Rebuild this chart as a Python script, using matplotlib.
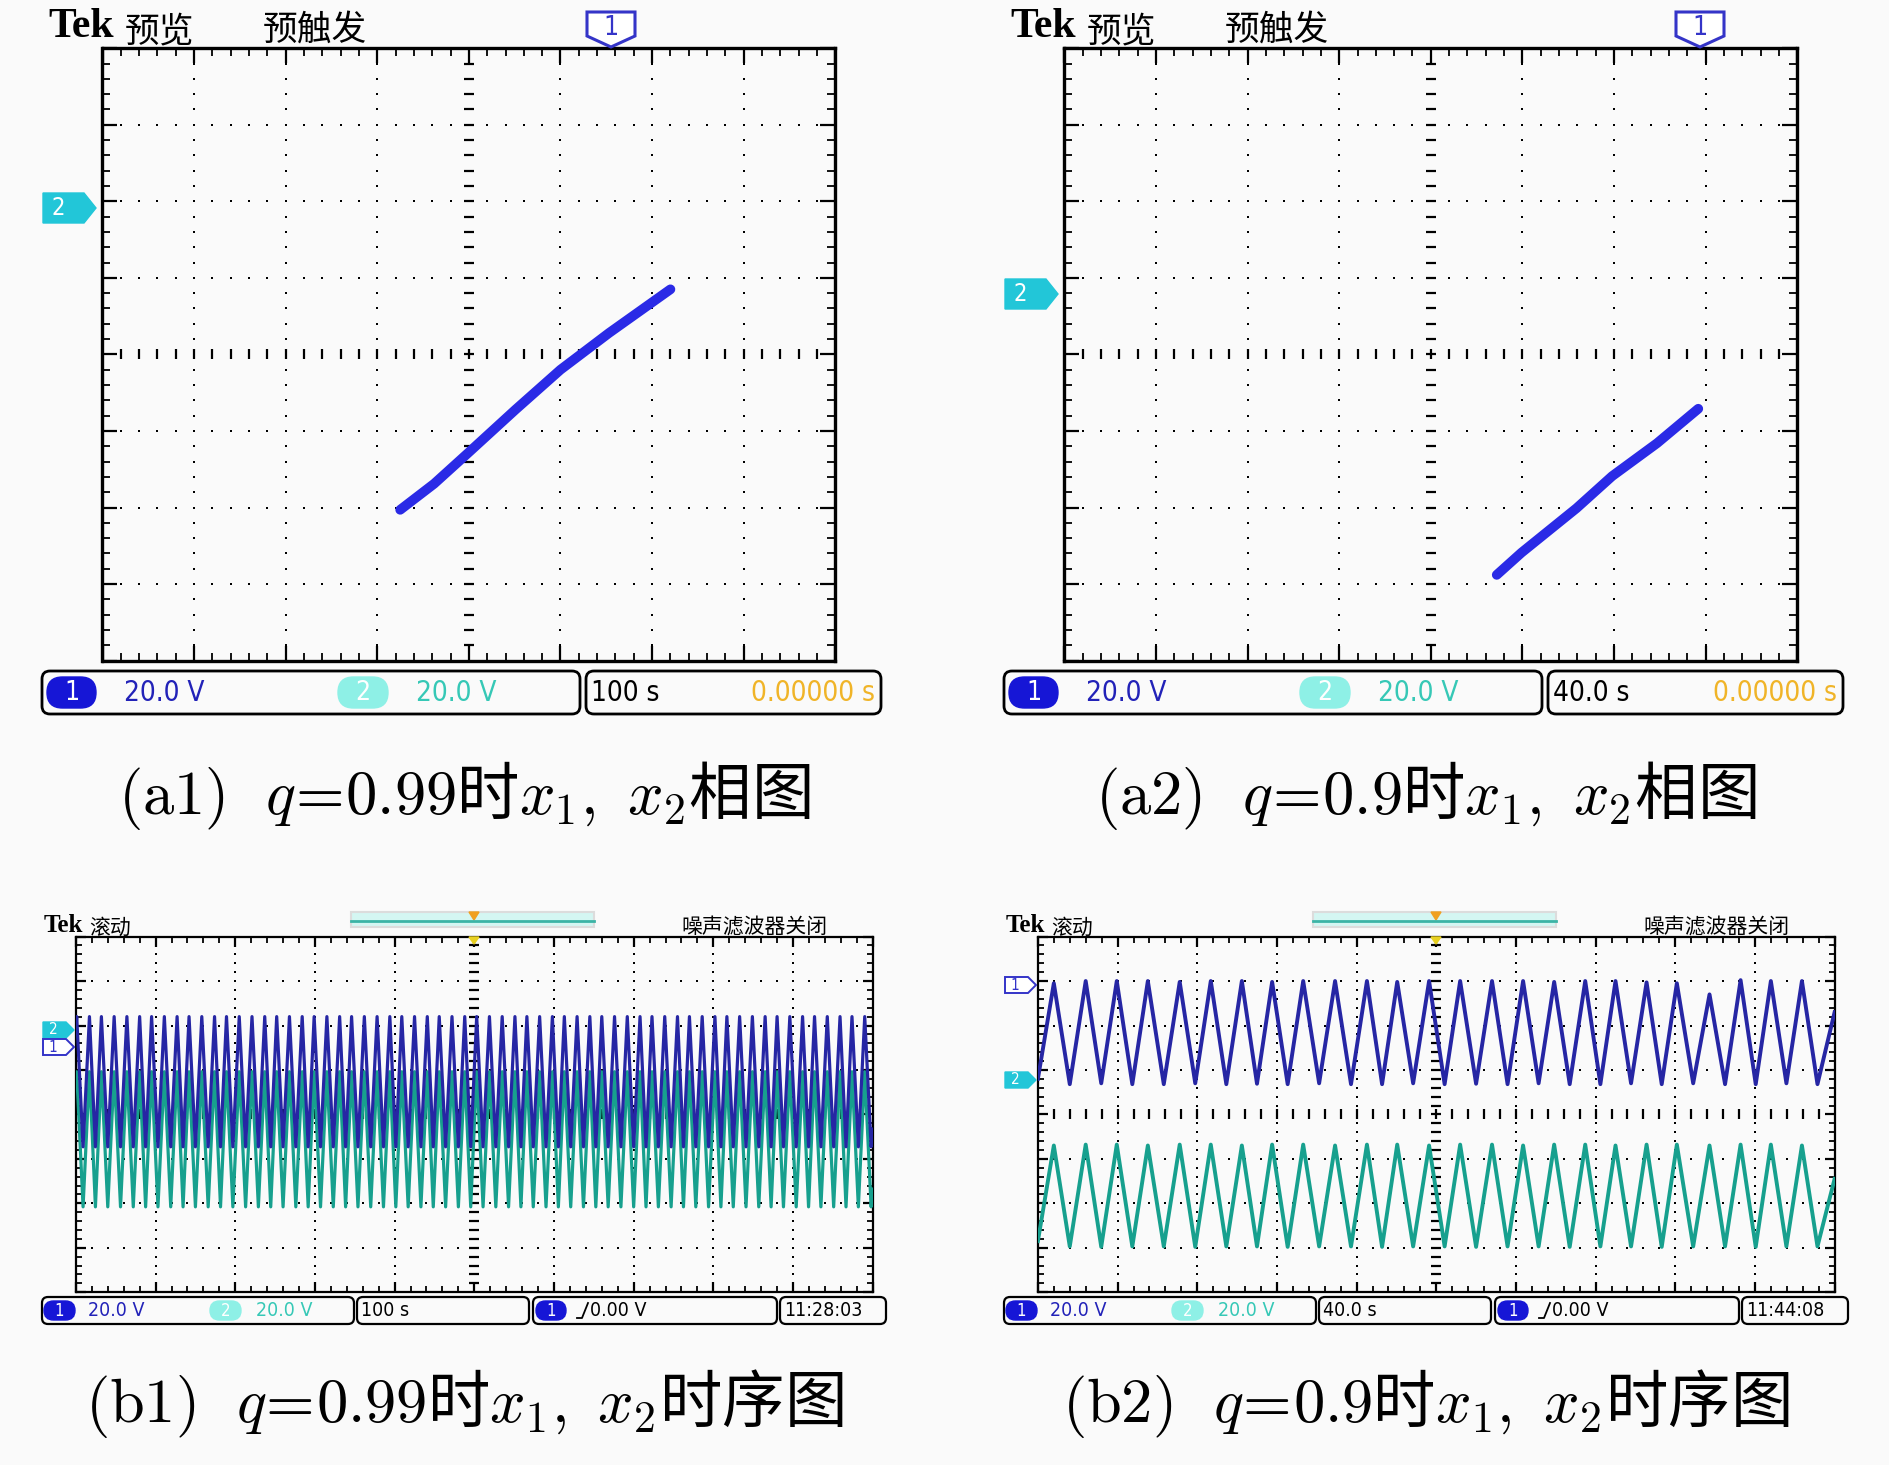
import numpy as np
import matplotlib.pyplot as plt
from matplotlib.patches import Polygon, FancyBboxPatch

W, H = 1890, 1465
plt.rcParams['mathtext.fontset'] = 'cm'
CJK = ['Noto Sans CJK SC', 'DejaVu Sans']
NARROW = ['Liberation Sans Narrow', 'DejaVu Sans']

# ---- data (scope divisions) ----
# phase portraits: x1 (horizontal) vs x2 (vertical), centre = 0
a1_x1 = [-0.75, -0.38, -0.02, 0.51, 1.00, 1.53, 2.20]
a1_x2 = [-2.03, -1.69, -1.30, -0.72, -0.20, 0.28, 0.85]
a2_x1 = [0.72, 0.99, 1.59, 1.98, 2.47, 2.92]
a2_x2 = [-2.88, -2.59, -2.01, -1.59, -1.16, -0.71]

# time series, q=0.9 (40 s/div): peak positions and peak / trough levels
b2_peak_t = [0.20, 0.60, 0.99, 1.38, 1.78, 2.17, 2.56, 2.94, 3.33, 3.73, 4.13, 4.51, 4.91,
             5.30, 5.70, 6.09, 6.48, 6.87, 7.25, 7.64, 8.02, 8.43, 8.82, 9.20, 9.59]
b2_x1_hi = [6.95, 7.00, 7.00, 7.00, 6.98, 7.00, 7.00, 6.98, 7.00, 7.00, 7.00, 6.98, 7.00,
            7.00, 7.00, 7.00, 6.98, 7.00, 7.00, 6.97, 6.95, 6.70, 7.02, 7.00, 7.00]
b2_x1_lo = [4.68, 4.70, 4.68, 4.68, 4.70, 4.68, 4.69, 4.68, 4.70, 4.68, 4.68, 4.70, 4.68,
            4.69, 4.68, 4.70, 4.68, 4.68, 4.70, 4.68, 4.70, 4.68, 4.68, 4.70, 4.68]
b2_x2_hi = [3.30, 3.32, 3.32, 3.30, 3.32, 3.32, 3.30, 3.32, 3.32, 3.30, 3.32, 3.32, 3.30,
            3.32, 3.32, 3.30, 3.32, 3.32, 3.30, 3.32, 3.32, 3.30, 3.32, 3.32, 3.30]
b2_x2_lo = [1.03, 1.02, 1.03, 1.03, 1.02, 1.03, 1.03, 1.02, 1.03, 1.03, 1.02, 1.03, 1.03,
            1.02, 1.03, 1.03, 1.02, 1.03, 1.03, 1.02, 1.03, 1.03, 1.02, 1.03, 1.03]
b2_x1_ends = (4.80, 6.30)
b2_x2_ends = (1.15, 2.55)

# time series, q=0.99 (100 s/div)
b1_peak_t = [0.01, 0.17, 0.32, 0.48, 0.64, 0.80, 0.95, 1.11, 1.27, 1.42, 1.58, 1.74, 1.89,
             2.05, 2.21, 2.37, 2.52, 2.68, 2.84, 2.99, 3.15, 3.31, 3.46, 3.62, 3.78, 3.94,
             4.09, 4.25, 4.41, 4.56, 4.72, 4.88, 5.03, 5.19, 5.35, 5.51, 5.66, 5.82, 5.98,
             6.13, 6.29, 6.45, 6.60, 6.76, 6.92, 7.08, 7.23, 7.39, 7.55, 7.70, 7.86, 8.02,
             8.17, 8.33, 8.49, 8.65, 8.80, 8.96, 9.12, 9.27, 9.43, 9.59, 9.74, 9.90]
b1_x1_level = (6.20, 3.27)
b1_x2_level = (4.96, 1.92)

captions = [r'$\mathrm{(a1)}\ \ q\!=\!0.99$时$x_1,\ x_2$相图',
            r'$\mathrm{(a2)}\ \ q\!=\!0.9$时$x_1,\ x_2$相图',
            r'$\mathrm{(b1)}\ \ q\!=\!0.99$时$x_1,\ x_2$时序图',
            r'$\mathrm{(b2)}\ \ q\!=\!0.9$时$x_1,\ x_2$时序图']
timebase = ['100 s', '40.0 s']
clock = ['11:28:03', '11:44:08']

BLUE = '#2a2ae6'
TR_BLUE = '#2626a4'
TR_CYAN = '#17a08e'
BG = '#fafafa'

fig = plt.figure(figsize=(W / 100, H / 100), dpi=100, facecolor=BG)


def add_scope(x0, y0, x1, y1, ncol, nrow, xa, ya, lw, big):
    ax = fig.add_axes([x0 / W, 1 - y1 / H, (x1 - x0) / W, (y1 - y0) / H])
    ax.set_facecolor(BG)
    ax.set_xlim(xa, xa + ncol)
    ax.set_ylim(ya, ya + nrow)
    ax.set_xticks(np.arange(ncol + 1) + xa)
    ax.set_yticks(np.arange(nrow + 1) + ya)
    ax.set_xticks(np.arange(ncol * 5 + 1) / 5 + xa, minor=True)
    ax.set_yticks(np.arange(nrow * 5 + 1) / 5 + ya, minor=True)
    ax.tick_params(which='both', direction='in', top=True, right=True,
                   labelbottom=False, labelleft=False)
    ax.tick_params(which='major', length=11 if big else 7, width=1.6)
    ax.tick_params(which='minor', length=6 if big else 4, width=1.3)
    for s in ax.spines.values():
        s.set_linewidth(lw)
    fy = np.arange(1, nrow * 5) / 5 + ya
    fx = np.arange(1, ncol * 5) / 5 + xa
    for i in range(1, ncol):
        if 2 * i == ncol:
            ax.plot(np.full(fy.size, i + xa), fy, ls='none', marker='_', ms=7, mew=1.6, color='k')
        else:
            ax.plot(np.full(fy.size, i + xa), fy, ls='none', marker='s', ms=2.0, mew=0, color='k')
    for j in range(1, nrow):
        if 2 * j == nrow:
            ax.plot(fx, np.full(fx.size, j + ya), ls='none', marker='|', ms=7, mew=1.6, color='k')
        else:
            ax.plot(fx, np.full(fx.size, j + ya), ls='none', marker='s', ms=2.0, mew=0, color='k')
    return ax


def zigzag(peak_t, hi, lo, ends):
    t = [0.0]
    v = [ends[0]]
    for k in range(len(peak_t)):
        t.append(peak_t[k])
        v.append(hi[k])
        if k + 1 < len(peak_t):
            t.append((peak_t[k] + peak_t[k + 1]) / 2)
            v.append(lo[k])
    half = (peak_t[-1] - peak_t[-2]) / 2
    if peak_t[-1] + half < 10:
        t.append(peak_t[-1] + half)
        v.append(lo[-1])
    t.append(10.0)
    v.append(ends[1])
    return t, v


# ---- phase portraits ----
ax_a1 = add_scope(102.5, 48.2, 835.3, 660.6, 8, 8, -4, -4, 2.4, True)
ax_a1.plot(a1_x1, a1_x2, color=BLUE, lw=7, solid_capstyle='round', zorder=5)
ax_a2 = add_scope(1064.4, 48.2, 1797.2, 660.6, 8, 8, -4, -4, 2.4, True)
ax_a2.plot(a2_x1, a2_x2, color=BLUE, lw=7, solid_capstyle='round', zorder=5)

# ---- time series ----
ax_b1 = add_scope(75.9, 936.6, 872.7, 1292.2, 10, 8, 0, 0, 1.6, False)
n1 = len(b1_peak_t)
t, v = zigzag(b1_peak_t, [b1_x2_level[0]] * n1, [b1_x2_level[1]] * n1,
              (b1_x2_level[0] - 0.3, b1_x2_level[1] + 0.4))
ax_b1.plot(t, v, color=TR_CYAN, lw=2.3, zorder=4)
t, v = zigzag(b1_peak_t, [b1_x1_level[0]] * n1, [b1_x1_level[1]] * n1,
              (b1_x1_level[0] - 0.3, b1_x1_level[1] + 0.4))
ax_b1.plot(t, v, color=TR_BLUE, lw=2.3, zorder=5)

ax_b2 = add_scope(1037.9, 936.6, 1834.6, 1292.2, 10, 8, 0, 0, 1.6, False)
t, v = zigzag(b2_peak_t, b2_x1_hi, b2_x1_lo, b2_x1_ends)
ax_b2.plot(t, v, color=TR_BLUE, lw=2.8, zorder=5)
t, v = zigzag(b2_peak_t, b2_x2_hi, b2_x2_lo, b2_x2_ends)
ax_b2.plot(t, v, color=TR_CYAN, lw=2.8, zorder=5)

# ---- overlay in pixel coordinates: scope chrome and captions ----
ov = fig.add_axes([0, 0, 1, 1])
ov.set_xlim(0, W)
ov.set_ylim(H, 0)
ov.axis('off')
ov.patch.set_alpha(0)


def rbox(x0, y0, x1, y1, r, fc=BG, ec='k', lw=2.0):
    ov.add_patch(FancyBboxPatch((x0, y0), x1 - x0, y1 - y0,
                                boxstyle=f'round,pad=0,rounding_size={r}', fc=fc, ec=ec, lw=lw))


def stext(x, y, s, size, color='k', ha='left'):
    ov.text(x, y, s, color=color, fontsize=size, ha=ha, va='center', family=NARROW,
            fontstretch='condensed')


def pill(x0, x1, y0, y1, fc, label, size):
    rbox(x0, y0, x1, y1, (y1 - y0) / 2, fc=fc, ec=fc, lw=1)
    stext((x0 + x1) / 2, (y0 + y1) / 2, label, size, color='white', ha='center')


for k, dx in enumerate([0, 962]):
    # header of XY screens
    ov.text(48 + dx, 37, 'Tek', fontsize=30, fontweight='bold', family='Liberation Serif', va='baseline')
    ov.text(125 + dx, 41, '预览', fontsize=25, family=CJK, va='baseline')
    ov.text(263 + dx, 41, '预触发', fontsize=25, family=CJK, va='baseline')
    # trigger marker
    tx = [611, 1700][k]
    ov.add_patch(Polygon([(tx - 24, 12), (tx + 24, 12), (tx + 24, 36), (tx, 47), (tx - 24, 36)],
                         closed=True, fc='white', ec='#3434c8', lw=2.2))
    stext(tx, 28, '1', 19, color='#3434c8', ha='center')
    # channel 2 marker
    cy = [208, 294][k]
    ov.add_patch(Polygon([(43 + dx, cy - 15), (84 + dx, cy - 15), (96 + dx, cy), (84 + dx, cy + 15),
                          (43 + dx, cy + 15)], closed=True, fc='#22c6d8', ec='#22c6d8'))
    stext(58 + dx, cy, '2', 17, color='white', ha='center')
    # status bar
    rbox(42 + dx, 671, 580 + dx, 714, 8)
    rbox(586 + dx, 671, 881 + dx, 714, 8)
    pill(47 + dx, 96 + dx, 677, 708, '#1616d6', '1', 19)
    stext(124 + dx, 693, '20.0 V', 20, color='#2222b8')
    pill(338 + dx, 388 + dx, 677, 708, '#8ef0e6', '2', 19)
    stext(416 + dx, 693, '20.0 V', 20, color='#36c8b6')
    stext(591 + dx, 693, timebase[k], 20)
    stext(875 + dx, 693, '0.00000 s', 20, color='#f0b428', ha='right')

    # header of time screens
    ov.text(44 + dx, 932, 'Tek', fontsize=18, fontweight='bold', family='Liberation Serif', va='baseline')
    ov.text(89 + dx, 934, '滚动', fontsize=15, family=CJK, va='baseline')
    ov.text(681 + dx, 934, '噪声滤波器关闭', fontsize=15, family=CJK, va='baseline')
    ov.add_patch(FancyBboxPatch((351 + dx, 912), 243, 15, boxstyle='square,pad=0',
                                fc='#d4f6f2', ec='#dcdcdc', lw=1.5))
    ov.plot([351 + dx, 594 + dx], [921, 921], color='#3cb4a6', lw=2)
    ov.add_patch(Polygon([(469 + dx, 912), (479 + dx, 912), (474 + dx, 920)], closed=True,
                         fc='#f0a020', ec='#f0a020'))
    ov.add_patch(Polygon([(469 + dx, 937), (479 + dx, 937), (474 + dx, 944)], closed=True,
                         fc='#e8d020', ec='#e8d020'))
    # channel markers of time screens
    c1y, c2y = [(1047, 1030), (985, 1080)][k]
    ov.add_patch(Polygon([(43 + dx, c2y - 8), (66 + dx, c2y - 8), (74 + dx, c2y), (66 + dx, c2y + 8),
                          (43 + dx, c2y + 8)], closed=True, fc='#22c6d8', ec='#22c6d8'))
    stext(53 + dx, c2y, '2', 11, color='white', ha='center')
    ov.add_patch(Polygon([(43 + dx, c1y - 8), (66 + dx, c1y - 8), (74 + dx, c1y), (66 + dx, c1y + 8),
                          (43 + dx, c1y + 8)], closed=True, fc='white', ec='#3434c8', lw=1.4))
    stext(53 + dx, c1y, '1', 11, color='#3434c8', ha='center')
    # status bar of time screens
    rbox(42 + dx, 1297, 354 + dx, 1324, 6, lw=1.6)
    rbox(357 + dx, 1297, 529 + dx, 1324, 6, lw=1.6)
    rbox(533 + dx, 1297, 777 + dx, 1324, 6, lw=1.6)
    rbox(780 + dx, 1297, 886 + dx, 1324, 6, lw=1.6)
    pill(44 + dx, 75 + dx, 1301, 1320, '#1616d6', '1', 12)
    stext(88 + dx, 1311, '20.0 V', 14, color='#2222b8')
    pill(210 + dx, 241 + dx, 1301, 1320, '#8ef0e6', '2', 12)
    stext(256 + dx, 1311, '20.0 V', 14, color='#36c8b6')
    stext(361 + dx, 1311, timebase[k], 14)
    pill(536 + dx, 566 + dx, 1301, 1320, '#1616d6', '1', 12)
    ov.plot([577 + dx, 582 + dx, 588 + dx], [1318, 1318, 1303], color='k', lw=1.3)
    stext(590 + dx, 1311, '0.00 V', 14)
    stext(784 + dx, 1311, clock[k], 14)

    # captions
    ov.text(464 + dx, 796, captions[k], fontsize=45, ha='center', va='center', family=CJK)
    ov.text(464 + dx, 1404, captions[2 + k], fontsize=45, ha='center', va='center', family=CJK)

fig.savefig('out.png', dpi=100, facecolor=BG)
